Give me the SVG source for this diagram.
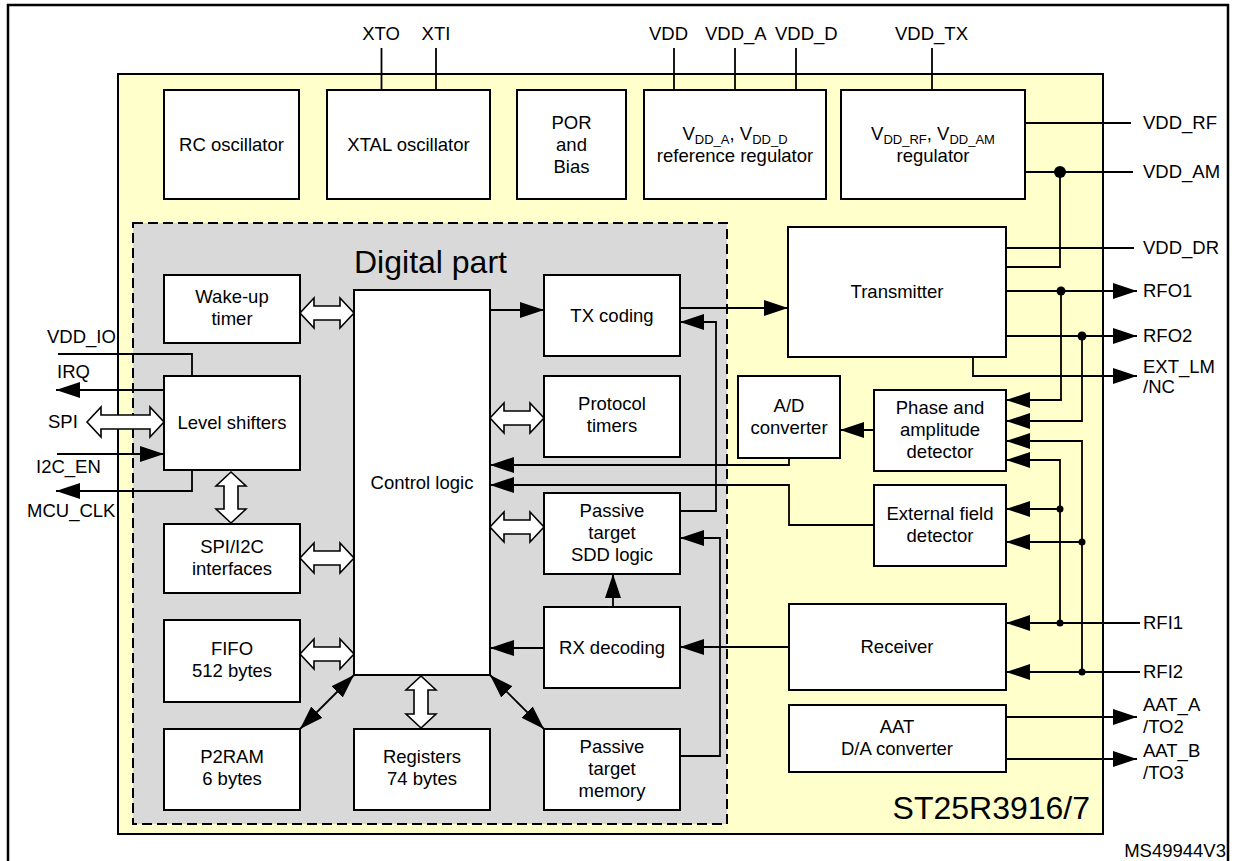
<svg xmlns="http://www.w3.org/2000/svg" width="1236" height="861" viewBox="0 0 1236 861">
<defs>
<style>
.t{font-family:"Liberation Sans",Arial,sans-serif;font-size:18.5px;fill:#000}
.c{text-anchor:middle}
.big{font-size:32px}
.box{fill:#fff;stroke:#000;stroke-width:2}
.ln{fill:none;stroke:#000;stroke-width:1.8}
.ar{fill:none;stroke:#000;stroke-width:1.8;marker-end:url(#ah)}
.ar2{fill:none;stroke:#000;stroke-width:1.8;marker-end:url(#ah);marker-start:url(#ah)}
.ha{fill:#fff;stroke:#000;stroke-width:1.6;stroke-linejoin:miter}
.dot{fill:#000}
</style>
<marker id="ah" markerUnits="userSpaceOnUse" markerWidth="24" markerHeight="16" refX="24" refY="8" orient="auto-start-reverse" viewBox="0 0 24 16"><path d="M0,0L24,8L0,16z" fill="#000"/></marker>
</defs>
<rect width="1236" height="861" fill="#fff"/>
<rect x="8" y="5" width="1220" height="870" fill="none" stroke="#000" stroke-width="2.5"/>
<g id="chip">
<rect x="118" y="74" width="985" height="760" fill="#ffffcc" stroke="#000" stroke-width="2"/>
<text class="t big" x="1090" y="819" text-anchor="end">ST25R3916/7</text>
</g>
<g id="digital-part">
<rect x="133" y="223" width="594" height="601" fill="#d9d9d9" stroke="#000" stroke-width="2" stroke-dasharray="10 5"/>
<text class="t big" x="354" y="273">Digital part</text>
</g>
<g id="connectors">
<!-- top pins -->
<path class="ln" d="M381.5,48V90M436,48V90M674,48V90M735,48V90M796,48V90M932,48V90"/>
<!-- right pins -->
<path class="ln" d="M1025,123H1131M1025,172H1133M1006,248H1134M1006,267H1060V172"/>
<path class="ar" d="M1006,291H1137"/>
<path class="ar" d="M1006,336H1137"/>
<path class="ar" d="M973,357V376H1137"/>
<path class="ar" d="M1061,291V400H1006"/>
<path class="ar" d="M1082,336V421H1006"/>
<path class="ar" d="M1082,672V441H1006"/>
<path class="ar" d="M1060,623V460H1006"/>
<path class="ar" d="M1060,509H1006"/>
<path class="ar" d="M1082,542H1006"/>
<path class="ar" d="M1140,623H1006"/>
<path class="ar" d="M1140,672H1006"/>
<path class="ar" d="M1006,717H1137"/>
<path class="ar" d="M1006,759H1137"/>
<circle class="dot" cx="1060" cy="172" r="6"/>
<circle class="dot" cx="1061" cy="291" r="4.5"/>
<circle class="dot" cx="1082" cy="336" r="4.5"/>
<circle class="dot" cx="1060" cy="509" r="3.5"/>
<circle class="dot" cx="1082" cy="542" r="3.5"/>
<circle class="dot" cx="1060" cy="623" r="3.5"/>
<circle class="dot" cx="1082" cy="672" r="3.5"/>
<!-- analog to digital -->
<path class="ar" d="M874,430H840"/>
<path class="ar" d="M789,458V465H490"/>
<path class="ar" d="M874,525H789V485H490"/>
<path class="ar" d="M789,647H680"/>
<path class="ar" d="M680,308H788"/>
<!-- digital internal -->
<path class="ar" d="M490,310H544"/>
<path class="ar" d="M680,511H716V322H680"/>
<path class="ar" d="M680,756H720V538H680"/>
<path class="ar" d="M613,607V574"/>
<path class="ar" d="M544,648H490"/>
<path class="ar2" d="M300,729L354,675"/>
<path class="ar2" d="M544,729L490,675"/>
<!-- hollow double arrows -->
<path class="ha" d="M300,313l14,-15v8h26v-8l14,15l-14,15v-8h-26v8z"/>
<path class="ha" d="M300,558l14,-15v8h26v-8l14,15l-14,15v-8h-26v8z"/>
<path class="ha" d="M300,654l14,-15v8h26v-8l14,15l-14,15v-8h-26v8z"/>
<path class="ha" d="M490,418l14,-15v8h26v-8l14,15l-14,15v-8h-26v8z"/>
<path class="ha" d="M490,527l14,-15v8h26v-8l14,15l-14,15v-8h-26v8z"/>
<path class="ha" d="M87,422l14,-15v8h49v-8l14,15l-14,15v-8h-49v8z"/>
<path class="ha" d="M231,472l-15,14h8v23h-8l15,14l15,-14h-8v-23h8z"/>
<path class="ha" d="M421,676l-15,14h8v24h-8l15,14l15,-14h-8v-24h8z"/>
<!-- left pins -->
<path class="ln" d="M58,354H192V376"/>
<path class="ar" d="M164,390H56"/>
<path class="ar" d="M57,454H164"/>
<path class="ar" d="M192,470V491H56"/>
</g>
<g id="rc-osc"><rect class="box" x="164" y="90" width="135" height="109"/><text class="t c" x="231.5" y="151">RC oscillator</text></g>
<g id="xtal-osc"><rect class="box" x="327" y="90" width="163" height="109"/><text class="t c" x="408.5" y="151">XTAL oscillator</text></g>
<g id="por"><rect class="box" x="517" y="90" width="109" height="109"/><text class="t c" x="571.5" y="129">POR</text><text class="t c" x="571.5" y="151">and</text><text class="t c" x="571.5" y="173">Bias</text></g>
<g id="ref-reg"><rect class="box" x="644" y="90" width="182" height="109"/><text class="t c" x="735" y="140">V<tspan font-size="13" dy="4">DD_A</tspan><tspan dy="-4">, V</tspan><tspan font-size="13" dy="4">DD_D</tspan></text><text class="t c" x="735" y="162">reference regulator</text></g>
<g id="rf-reg"><rect class="box" x="841" y="90" width="184" height="109"/><text class="t c" x="933" y="140">V<tspan font-size="13" dy="4">DD_RF</tspan><tspan dy="-4">, V</tspan><tspan font-size="13" dy="4">DD_AM</tspan></text><text class="t c" x="933" y="162">regulator</text></g>
<g id="wakeup"><rect class="box" x="164" y="275" width="136" height="68"/><text class="t c" x="232" y="303">Wake-up</text><text class="t c" x="232" y="325">timer</text></g>
<g id="level"><rect class="box" x="164" y="376" width="136" height="94"/><text class="t c" x="232" y="429">Level shifters</text></g>
<g id="spii2c"><rect class="box" x="164" y="524" width="136" height="69"/><text class="t c" x="232" y="553">SPI/I2C</text><text class="t c" x="232" y="575">interfaces</text></g>
<g id="fifo"><rect class="box" x="164" y="620" width="136" height="82"/><text class="t c" x="232" y="655">FIFO</text><text class="t c" x="232" y="677">512 bytes</text></g>
<g id="p2ram"><rect class="box" x="164" y="729" width="136" height="81"/><text class="t c" x="232" y="763">P2RAM</text><text class="t c" x="232" y="785">6 bytes</text></g>
<g id="control"><rect class="box" x="354" y="290" width="136" height="385"/><text class="t c" x="422" y="489">Control logic</text></g>
<g id="registers"><rect class="box" x="354" y="729" width="136" height="81"/><text class="t c" x="422" y="763">Registers</text><text class="t c" x="422" y="785">74 bytes</text></g>
<g id="txcoding"><rect class="box" x="544" y="275" width="136" height="81"/><text class="t c" x="612" y="322">TX coding</text></g>
<g id="protocol"><rect class="box" x="544" y="376" width="136" height="81"/><text class="t c" x="612" y="410">Protocol</text><text class="t c" x="612" y="432">timers</text></g>
<g id="sdd"><rect class="box" x="544" y="493" width="136" height="81"/><text class="t c" x="612" y="517">Passive</text><text class="t c" x="612" y="539">target</text><text class="t c" x="612" y="561">SDD logic</text></g>
<g id="rxdec"><rect class="box" x="544" y="607" width="136" height="81"/><text class="t c" x="612" y="654">RX decoding</text></g>
<g id="ptmem"><rect class="box" x="544" y="729" width="136" height="81"/><text class="t c" x="612" y="753">Passive</text><text class="t c" x="612" y="775">target</text><text class="t c" x="612" y="797">memory</text></g>
<g id="transmitter"><rect class="box" x="788" y="227" width="218" height="130"/><text class="t c" x="897" y="298">Transmitter</text></g>
<g id="adc"><rect class="box" x="738" y="376" width="102" height="82"/><text class="t c" x="789" y="412">A/D</text><text class="t c" x="789" y="434">converter</text></g>
<g id="phase"><rect class="box" x="874" y="390" width="132" height="81"/><text class="t c" x="940" y="414">Phase and</text><text class="t c" x="940" y="436">amplitude</text><text class="t c" x="940" y="458">detector</text></g>
<g id="extfield"><rect class="box" x="874" y="485" width="132" height="81"/><text class="t c" x="940" y="520">External field</text><text class="t c" x="940" y="542">detector</text></g>
<g id="receiver"><rect class="box" x="789" y="604" width="217" height="86"/><text class="t c" x="897" y="653">Receiver</text></g>
<g id="aat"><rect class="box" x="789" y="705" width="217" height="67"/><text class="t c" x="897" y="733">AAT</text><text class="t c" x="897" y="755">D/A converter</text></g>
<g id="pin-labels">
<text class="t c" x="381" y="40">XTO</text>
<text class="t c" x="436" y="40">XTI</text>
<text class="t" x="649" y="40">VDD</text>
<text class="t" x="705" y="40">VDD_A</text>
<text class="t" x="775" y="40">VDD_D</text>
<text class="t" x="895" y="40">VDD_TX</text>
<text class="t" x="1143" y="129">VDD_RF</text>
<text class="t" x="1143" y="178">VDD_AM</text>
<text class="t" x="1143" y="254">VDD_DR</text>
<text class="t" x="1143" y="297">RFO1</text>
<text class="t" x="1143" y="342">RFO2</text>
<text class="t" x="1143" y="373">EXT_LM</text>
<text class="t" x="1143" y="393">/NC</text>
<text class="t" x="1143" y="629">RFI1</text>
<text class="t" x="1143" y="678">RFI2</text>
<text class="t" x="1143" y="711">AAT_A</text>
<text class="t" x="1143" y="733">/TO2</text>
<text class="t" x="1143" y="757">AAT_B</text>
<text class="t" x="1143" y="779">/TO3</text>
<text class="t" x="47" y="343">VDD_IO</text>
<text class="t" x="57" y="378">IRQ</text>
<text class="t" x="48" y="428">SPI</text>
<text class="t" x="36" y="473">I2C_EN</text>
<text class="t" x="27" y="517">MCU_CLK</text>
<text class="t" x="1226" y="857" text-anchor="end" font-size="12.5">MS49944V3</text>
</g>
</svg>
